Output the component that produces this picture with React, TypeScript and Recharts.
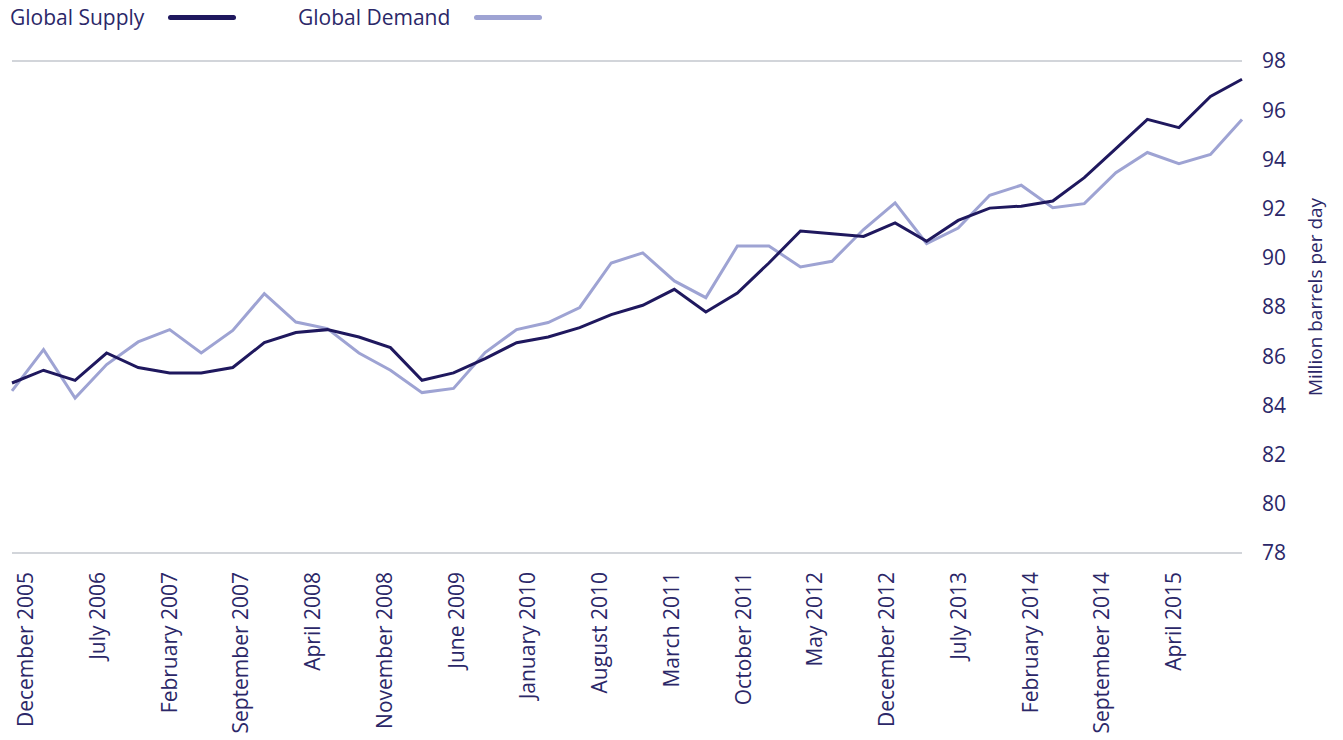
import { LineChart, Line, XAxis, YAxis, CartesianGrid } from 'recharts';

const quarters = [
  'Dec 2005', 'Mar 2006', 'Jun 2006', 'Sep 2006', 'Dec 2006', 'Mar 2007', 'Jun 2007', 'Sep 2007',
  'Dec 2007', 'Mar 2008', 'Jun 2008', 'Sep 2008', 'Dec 2008', 'Mar 2009', 'Jun 2009', 'Sep 2009',
  'Dec 2009', 'Mar 2010', 'Jun 2010', 'Sep 2010', 'Dec 2010', 'Mar 2011', 'Jun 2011', 'Sep 2011',
  'Dec 2011', 'Mar 2012', 'Jun 2012', 'Sep 2012', 'Dec 2012', 'Mar 2013', 'Jun 2013', 'Sep 2013',
  'Dec 2013', 'Mar 2014', 'Jun 2014', 'Sep 2014', 'Dec 2014', 'Mar 2015', 'Jun 2015', 'Sep 2015',
];

const supply = [
  84.91, 85.43, 85.02, 86.13, 85.54, 85.32, 85.32, 85.54, 86.55, 86.96,
  87.08, 86.78, 86.35, 85.02, 85.32, 85.9, 86.55, 86.78, 87.16, 87.69,
  88.07, 88.72, 87.8, 88.57, 89.79, 91.09, 90.98, 90.87, 91.42, 90.67,
  91.52, 92.02, 92.1, 92.31, 93.26, 94.44, 95.63, 95.29, 96.56, 97.26,
];

const demand = [
  84.59, 86.27, 84.3, 85.66, 86.58, 87.08, 86.13, 87.05, 88.54, 87.39,
  87.12, 86.13, 85.43, 84.52, 84.69, 86.15, 87.08, 87.37, 87.98, 89.79,
  90.2, 89.06, 88.38, 90.48, 90.48, 89.63, 89.86, 91.15, 92.23, 90.58,
  91.21, 92.54, 92.95, 92.04, 92.2, 93.46, 94.28, 93.83, 94.2, 95.62,
];

// labels shown every 7 months on the month axis
const monthLabels = [
  'December 2005', 'July 2006', 'February 2007', 'September 2007', 'April 2008',
  'November 2008', 'June 2009', 'January 2010', 'August 2010', 'March 2011',
  'October 2011', 'May 2012', 'December 2012', 'July 2013', 'February 2014',
  'September 2014', 'April 2015',
];

const yTicks = [78, 80, 82, 84, 86, 88, 90, 92, 94, 96, 98];

// month = months since December 2005 for each quarterly reading
const data = quarters.map((q, i) => ({ quarter: q, month: i * 3, supply: supply[i], demand: demand[i] }));
const monthTicks = monthLabels.map((_, k) => 7 * k + 0.5);

const TEXT = '#2b2768';
const SUPPLY = '#1f185e';
const DEMAND = '#9ea3d3';
const GRID = '#d2d5da';
const FONT = '"Open Sans", sans-serif';

const MonthTick = ({ x, y, payload }: any) => {
  const idx = monthTicks.indexOf(payload.value);
  if (idx < 0) return null;
  const tx = x + 8;
  return (
    <text
      x={tx}
      y={y}
      transform={`rotate(-90, ${tx}, ${y})`}
      textAnchor="end"
      dominantBaseline="central"
      fill={TEXT}
      fontSize={21}
      fontFamily={FONT}
    >
      {monthLabels[idx]}
    </text>
  );
};

const AxisTitle = (props: any) => {
  const vb = props.viewBox || { x: 1242, y: 61, width: 101, height: 492 };
  const cx = vb.x + 73;
  const cy = vb.y + vb.height / 2 - 10;
  return (
    <text
      x={cx}
      y={cy}
      transform={`rotate(-90, ${cx}, ${cy})`}
      textAnchor="middle"
      dominantBaseline="central"
      fill={TEXT}
      fontSize={19}
      fontFamily={FONT}
    >
      Million barrels per day
    </text>
  );
};

const LegendItem = ({ left, label, color }: { left: number; label: string; color: string }) => (
  <div style={{ position: 'absolute', left, top: 2, display: 'flex', alignItems: 'center' }}>
    <span style={{ fontSize: 21, color: TEXT, lineHeight: '30px' }}>{label}</span>
    <span
      style={{
        display: 'inline-block',
        width: 68,
        height: 5,
        borderRadius: 3,
        background: color,
        marginLeft: 24,
      }}
    />
  </div>
);

export default function App() {
  return (
    <div
      style={{
        position: 'absolute',
        left: 0,
        top: 0,
        width: 1343,
        height: 740,
        background: '#fff',
        fontFamily: FONT,
      }}
    >
      <LineChart width={1343} height={740} data={data} margin={{ top: 61, right: 0, left: 12, bottom: 0 }}>
        <CartesianGrid vertical={false} stroke={GRID} strokeWidth={1.8} />
        <XAxis dataKey="quarter" xAxisId="q" hide />
        <XAxis
          xAxisId="m"
          dataKey="month"
          type="number"
          domain={[0, 120]}
          allowDataOverflow
          ticks={monthTicks}
          interval={0}
          height={187}
          axisLine={false}
          tickLine={false}
          tickSize={0}
          tickMargin={19}
          tick={<MonthTick />}
        />
        <YAxis
          yAxisId="left"
          orientation="left"
          width={0}
          domain={[78, 98]}
          tick={false}
          tickLine={false}
          axisLine={{ stroke: GRID, strokeWidth: 1.8 }}
        />
        <YAxis
          yAxisId="r"
          orientation="right"
          width={101}
          domain={[78, 98]}
          ticks={yTicks}
          interval={0}
          axisLine={false}
          tickLine={false}
          tickSize={0}
          tickMargin={20}
          tick={{ fill: TEXT, fontSize: 21, fontFamily: FONT }}
          label={<AxisTitle />}
        />
        <Line
          xAxisId="q"
          yAxisId="r"
          type="linear"
          dataKey="demand"
          stroke={DEMAND}
          strokeWidth={3}
          dot={false}
          isAnimationActive={false}
        />
        <Line
          xAxisId="q"
          yAxisId="r"
          type="linear"
          dataKey="supply"
          stroke={SUPPLY}
          strokeWidth={3}
          dot={false}
          isAnimationActive={false}
        />
      </LineChart>
      <LegendItem left={10} label="Global Supply" color={SUPPLY} />
      <LegendItem left={298} label="Global Demand" color={DEMAND} />
    </div>
  );
}
